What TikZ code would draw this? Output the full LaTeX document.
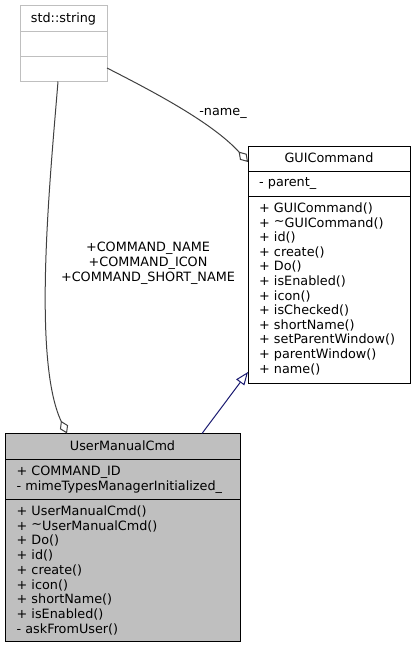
\documentclass[tikz,border=0pt]{standalone}
\usepackage{fontspec}
\setmainfont{DejaVu Sans}
\usetikzlibrary{arrows.meta}
\definecolor{greyS}{HTML}{BFBFBF}
\definecolor{greyE}{HTML}{404040}
\definecolor{midblue}{HTML}{191970}
\begin{document}
\begin{tikzpicture}[x=1pt,y=-1pt,
  font=\fontsize{12.8}{14.7}\selectfont,
  boxframe/.style={draw=black, line width=0.9pt, inner sep=0pt},
  txt/.style={anchor=base west, inner sep=0pt},
  ttl/.style={anchor=base, inner sep=0pt},
  agg/.style={draw=greyE, line width=1pt, -{Diamond[open, length=14pt, width=9pt, fill=white]}},
  inh/.style={draw=midblue, line width=1pt, -{Triangle[open, length=13pt, width=10pt, fill=white]}},
  elabel/.style={inner sep=0pt, align=center, font=\fontsize{12.8}{15}\selectfont}]
\useasboundingbox (0,0) rectangle (415,648);

% std::string
\node[boxframe, draw=greyS, fill=white, minimum width=87pt, minimum height=76pt] (str) at (63.5,43) {};
\draw[greyS, line width=0.9pt] (20,31) -- (107,31) (20,56) -- (107,56);
\node[ttl] (strT) at (63.5,22.5) {std::string};

% GUICommand
\node[boxframe, fill=white, minimum width=162pt, minimum height=237pt] (gui) at (329,264.5) {};
\draw[line width=0.9pt] (248,171) -- (410,171) (248,196.7) -- (410,196.7);
\node[ttl] (guiT) at (329,162) {GUICommand};
\node[txt] (guiA) at (259,186.7) {- parent\_};
\foreach \t [count=\i from 0] in {+ GUICommand(), + \raisebox{0.2ex}{\textasciitilde}GUICommand(), + id(), + create(), + Do(), + isEnabled(), + icon(), + isChecked(), + shortName(), + setParentWindow(), + parentWindow(), + name()}
  \node[txt] (guiM\i) at (259,212.5+14.6*\i) {\t};

% UserManualCmd
\node[boxframe, fill=greyS, minimum width=235pt, minimum height=208pt] (umc) at (122.5,537.7) {};
\draw[line width=0.9pt] (5,459.3) -- (240,459.3) (5,499) -- (240,499);
\node[ttl] (umcT) at (122.5,450.5) {UserManualCmd};
\node[txt] (umcA0) at (16.5,475.3) {+ COMMAND\_ID};
\node[txt] (umcA1) at (16.5,490.3) {- mimeTypesManagerInitialized\_};
\foreach \t [count=\i from 0] in {+ UserManualCmd(), + \raisebox{0.2ex}{\textasciitilde}UserManualCmd(), + Do(), + id(), + create(), + icon(), + shortName(), + isEnabled(), - askFromUser()}
  \node[txt] (umcM\i) at (16.5,515.5+14.7*\i) {\t};

% connector anchor points
\coordinate (strR) at (107,68);
\coordinate (strB) at (58,81.5);
\coordinate (guiL) at (248,162);
\coordinate (guiLB) at (248,372);
\coordinate (umcTopL) at (67,433.5);
\coordinate (umcTopR) at (202,433.5);

% edges
\draw[agg] (strR) .. controls (150,90) and (212,122) .. (guiL);
\node[elabel] (lblName) at (223,113) {-name\_};

\draw[agg] (strB) .. controls (50,180) and (32,360) .. (umcTopL);
\node[elabel] (lblCmd) at (148,263) {+COMMAND\_NAME\\+COMMAND\_ICON\\+COMMAND\_SHORT\_NAME};

\draw[inh] (umcTopR) -- (guiLB);
\end{tikzpicture}
\end{document}
